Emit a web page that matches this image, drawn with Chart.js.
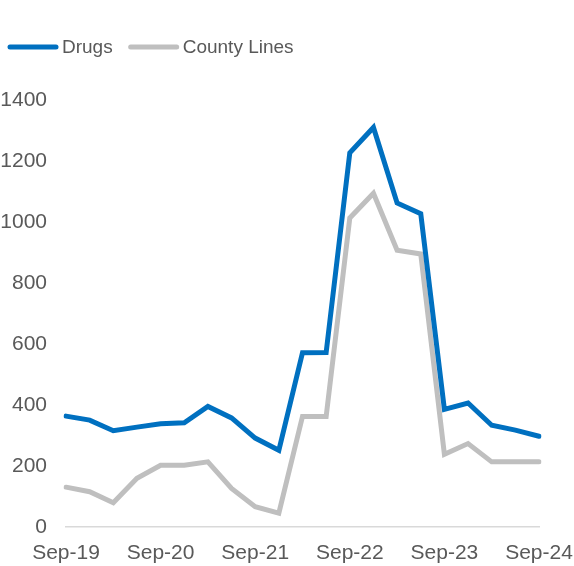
<!DOCTYPE html>
<html>
<head>
<meta charset="utf-8">
<script src="https://cdn.jsdelivr.net/npm/chart.js@4"></script>
<style>
html,body{margin:0;padding:0;background:#fff;}
#wrap{width:574px;height:566px;position:relative;}
</style>
</head>
<body>
<div id="wrap"><canvas id="c"></canvas></div>
<script>
const categories = ["Sep-19","Dec-19","Mar-20","Jun-20","Sep-20","Dec-20","Mar-21","Jun-21","Sep-21","Dec-21","Mar-22","Jun-22","Sep-22","Dec-22","Mar-23","Jun-23","Sep-23","Dec-23","Mar-24","Jun-24","Sep-24"];
const drugs = [363,350,315,327,338,341,395,357,291,251,571,572,1227,1310,1062,1027,385,406,333,317,297];
const countyLines = [130,115,79,159,202,202,213,126,66,45,362,362,1013,1094,907,895,238,273,213,213,213];
const yTicks = [0,200,400,600,800,1000,1200,1400];

const FONT = 'Liberation Sans, Arial, sans-serif';

const lineLegend = {
  id: 'lineLegend',
  afterDraw(chart) {
    const ctx = chart.ctx;
    ctx.save();
    ctx.font = '19px ' + FONT;
    ctx.textBaseline = 'middle';
    ctx.textAlign = 'left';
    let x = 8;
    const y = 47;
    chart.data.datasets.forEach(ds => {
      ctx.strokeStyle = ds.borderColor;
      ctx.lineWidth = 5;
      ctx.lineCap = 'round';
      ctx.beginPath();
      ctx.moveTo(x + 2, y);
      ctx.lineTo(x + 48, y);
      ctx.stroke();
      x += 54;
      ctx.fillStyle = '#595959';
      ctx.fillText(ds.label, x, y + 1);
      x += ctx.measureText(ds.label).width + 16;
    });
    ctx.restore();
  }
};

new Chart(document.getElementById('c'), {
  type: 'line',
  data: {
    labels: categories,
    datasets: [
      {label:'Drugs', data: drugs, borderColor:'#0070C0', backgroundColor:'#0070C0', borderWidth:5, pointRadius:0, tension:0, borderCapStyle:'round', borderJoinStyle:'miter'},
      {label:'County Lines', data: countyLines, borderColor:'#BFBFBF', backgroundColor:'#BFBFBF', borderWidth:5, pointRadius:0, tension:0, borderCapStyle:'round', borderJoinStyle:'miter'}
    ]
  },
  plugins: [lineLegend],
  options: {
    responsive: true,
    maintainAspectRatio: false,
    animation: false,
    layout: {padding: {top: 100, left: 1, right: 0, bottom: -14}},
    plugins: {
      tooltip: {enabled:false},
      legend: {display:false}
    },
    scales: {
      x: {
        offset: false,
        afterFit: function(axis){ axis.paddingRight = 35; axis.paddingLeft = 0; },
        grid: {display:false, drawTicks:false},
        border: {display:true, color:'#D9D9D9', width:1.5},
        ticks: {
          autoSkip:false, maxRotation:0, minRotation:0, padding: 14,
          color:'#595959', font:{family:FONT, size:21},
          callback: function(v, i){ return i % 4 === 0 ? categories[i] : ''; }
        }
      },
      y: {
        min: 0, max: 1400,
        afterBuildTicks: function(axis){ axis.ticks = yTicks.map(v => ({value:v})); },
        afterFit: function(axis){ axis.width = 65; },
        grid: {display:false, drawTicks:false},
        border: {display:false},
        ticks: {
          padding: 19,
          color:'#595959', font:{family:FONT, size:21},
          callback: function(v){ return String(v); }
        }
      }
    }
  }
});
</script>
</body>
</html>
